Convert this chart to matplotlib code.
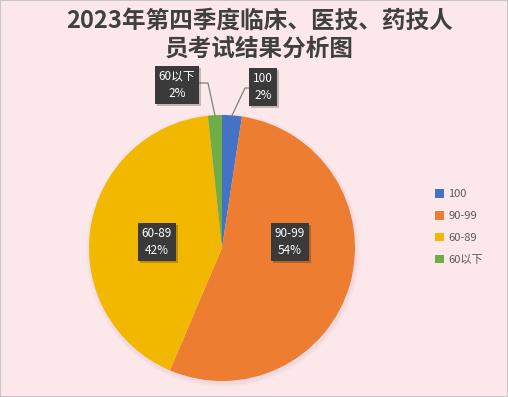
import matplotlib

matplotlib.use('Agg')
import matplotlib.pyplot as plt
import numpy as np

plt.rcParams['font.family'] = ['Noto Sans CJK SC', 'DejaVu Sans']

title = '2023年第四季度临床、医技、药技人\n员考试结果分析图'
categories = ['100', '90-99', '60-89', '60以下']
values = [2.4, 54.0, 41.9, 1.7]
colors = ['#4472C4', '#ED7D31', '#F2B800', '#70AD47']

bg = '#FCE8EB'
W, H = 508, 397

fig = plt.figure(figsize=(W / 100, H / 100), dpi=100, facecolor=bg)
ax = fig.add_axes([0, 0, 1, 1])

# outer border
fig.patches.append(plt.Rectangle((0, 0), 1, 1, transform=fig.transFigure,
                                 fill=False, edgecolor='#BFBFBF', lw=1.2))

cx, cy, r = 222, 149, 133

# soft shadow under the pie
for i in range(4):
    ax.add_patch(plt.Circle((cx + 1, cy - 2), r + 4 - i, color='#B08088',
                            alpha=0.03, lw=0))

wedges, _ = ax.pie(values, colors=colors, startangle=90, counterclock=False,
                   center=(cx, cy), radius=r, frame=True,
                   wedgeprops=dict(edgecolor='none'))
ax.set_xlim(0, W)
ax.set_ylim(0, H)
ax.set_aspect('equal')
ax.axis('off')

fig.text(0.511, 0.978, title, ha='center', va='top', fontsize=17,
         fontweight='bold', color='#404040', linespacing=1.22)

total = sum(values)
pcts = ['%d%%' % round(v / total * 100) for v in values]

# label positions (pixel coords, y up)
pos = {
    '100': (263, 310),
    '90-99': (290, 155),
    '60-89': (157, 155),
    '60以下': (177, 312),
}
labels = []
for cat, p in zip(categories, pcts):
    t = ax.text(pos[cat][0], pos[cat][1], cat + '\n' + p, ha='center',
                va='center', fontsize=8.5, color='white', linespacing=1.45,
                zorder=6,
                bbox=dict(boxstyle='square,pad=0.35', fc='#3A3A3A', ec='none'))
    labels.append(t)

# drop shadows behind the label boxes
fig.canvas.draw()
for t in labels:
    bb = t.get_bbox_patch().get_window_extent()
    ax.add_patch(plt.Rectangle((bb.x0 + 2, bb.y0 - 2), bb.width, bb.height,
                               transform=None, fc='black', alpha=0.22,
                               lw=0, zorder=5))


# leader lines for the two small slices
def edge_point(w):
    mid = np.deg2rad((w.theta1 + w.theta2) / 2)
    return cx + r * np.cos(mid), cy + r * np.sin(mid)


ex, ey = edge_point(wedges[0])
ax.plot([250, 245, ex], [309, 309, ey], color='#7F7F7F', lw=0.9, zorder=4)
ex, ey = edge_point(wedges[3])
ax.plot([200, 208, ex], [314, 314, ey], color='#7F7F7F', lw=0.9, zorder=4)

fig.legend(wedges, categories, loc='center left',
           bbox_to_anchor=(425 / W, 1 - 227 / H), frameon=False,
           fontsize=8, handlelength=0.8, handleheight=0.8,
           handletextpad=0.4, labelspacing=1.05, labelcolor='#595959')

fig.savefig('out.png', dpi=100, facecolor=bg)
